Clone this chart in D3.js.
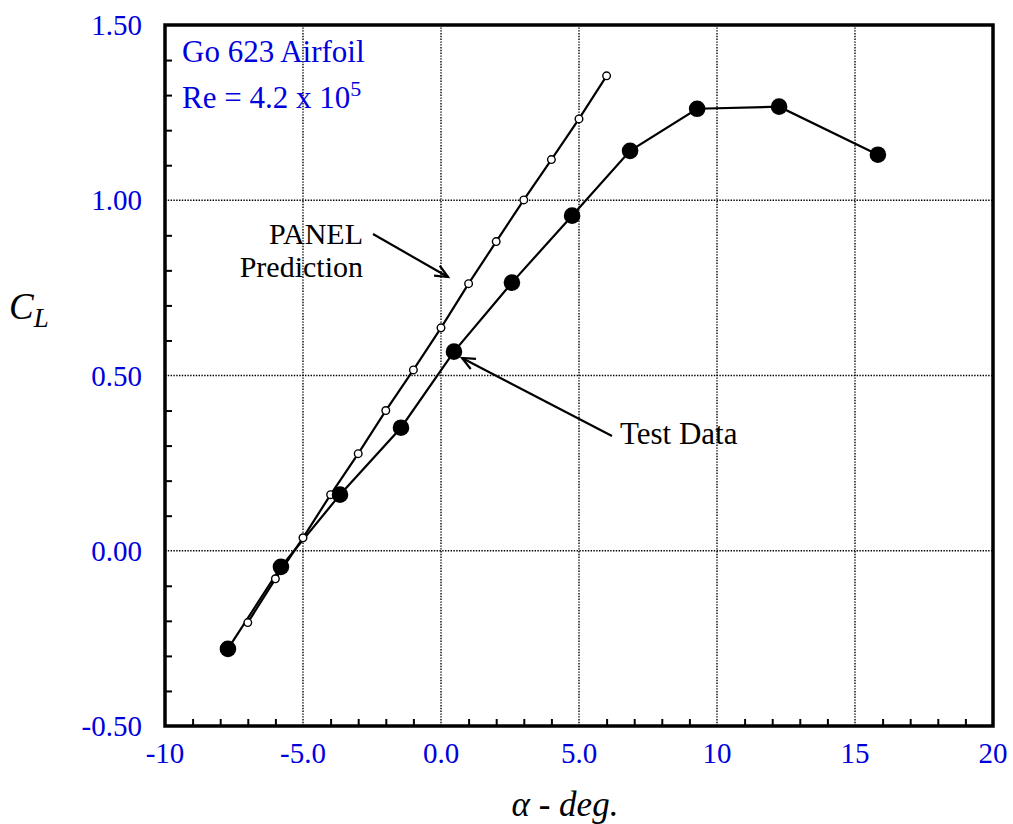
<!DOCTYPE html>
<html>
<head>
<meta charset="utf-8">
<script src="https://cdn.jsdelivr.net/npm/d3@7"></script>
<style>
  body { margin: 0; background: #fff; }
  text { font-family: "Liberation Serif", "Times New Roman", serif; }
</style>
</head>
<body>
<div id="chart"></div>
<script>
let height = 824,
    width = 1013,
    margin = ({ top: 25, right: 20, bottom: 98, left: 165 });

// PANEL prediction (open circles)
const panelAlpha = [-7, -6, -5, -4, -3, -2, -1, 0, 1, 2, 3, 4, 5, 6];
const panelCL = [-0.205, -0.08, 0.037, 0.16, 0.277, 0.40, 0.516, 0.636, 0.762, 0.882, 1.001, 1.116, 1.232, 1.355];

// Test data (filled circles)
const testAlpha = [-7.72, -5.8, -3.66, -1.45, 0.47, 2.57, 4.75, 6.85, 9.28, 12.25, 15.83];
const testCL = [-0.28, -0.046, 0.16, 0.351, 0.568, 0.765, 0.956, 1.141, 1.261, 1.267, 1.13];

const xTicks = [-10, -5, 0, 5, 10, 15, 20];
const xTickLabels = ["-10", "-5.0", "0.0", "5.0", "10", "15", "20"];
const yTicks = [-0.5, 0, 0.5, 1.0, 1.5];
const yTickLabels = ["-0.50", "0.00", "0.50", "1.00", "1.50"];

const svg = d3.select("#chart")
    .append("svg")
    .attr("width", width)
    .attr("height", height);

let x = d3.scaleLinear()
    .domain([-10, 20])
    .range([margin.left, width - margin.right]);

let y = d3.scaleLinear()
    .domain([-0.5, 1.5])
    .range([height - margin.bottom, margin.top]);

const blue = "#0000dd";

// dotted grid
svg.append("g")
    .selectAll("line")
    .data(xTicks.slice(1, -1))
    .join("line")
    .attr("x1", d => x(d)).attr("x2", d => x(d))
    .attr("y1", y(-0.5)).attr("y2", y(1.5))
    .attr("stroke", "#000").attr("stroke-width", 1.4)
    .attr("stroke-dasharray", "1.4,1.4");

svg.append("g")
    .selectAll("line")
    .data(yTicks.slice(1, -1))
    .join("line")
    .attr("y1", d => y(d)).attr("y2", d => y(d))
    .attr("x1", x(-10)).attr("x2", x(20))
    .attr("stroke", "#000").attr("stroke-width", 1.4)
    .attr("stroke-dasharray", "1.4,1.4");

// minor ticks, inward
svg.append("g")
    .attr("transform", `translate(0,${y(-0.5)})`)
    .call(d3.axisBottom(x).tickValues(d3.range(-9, 20, 1).filter(d => d % 5 !== 0)).tickSize(-7).tickFormat(""))
    .call(g => g.select(".domain").remove())
    .call(g => g.selectAll("line").attr("stroke-width", 2));

svg.append("g")
    .attr("transform", `translate(${x(-10)},0)`)
    .call(d3.axisLeft(y).tickValues(d3.range(-4, 15, 1).filter(d => d % 5 !== 0).map(d => d / 10)).tickSize(-7).tickFormat(""))
    .call(g => g.select(".domain").remove())
    .call(g => g.selectAll("line").attr("stroke-width", 2));

// tick labels
svg.append("g")
    .selectAll("text")
    .data(xTicks)
    .join("text")
    .attr("x", d => x(d))
    .attr("y", 763)
    .attr("text-anchor", "middle")
    .attr("font-size", 29)
    .attr("fill", blue)
    .text((d, i) => xTickLabels[i]);

svg.append("g")
    .selectAll("text")
    .data(yTicks)
    .join("text")
    .attr("x", 142)
    .attr("y", d => y(d) + 10)
    .attr("text-anchor", "end")
    .attr("font-size", 29)
    .attr("fill", blue)
    .text((d, i) => yTickLabels[i]);

// frame
svg.append("rect")
    .attr("x", x(-10)).attr("y", y(1.5))
    .attr("width", x(20) - x(-10)).attr("height", y(-0.5) - y(1.5))
    .attr("fill", "none").attr("stroke", "#000").attr("stroke-width", 3.5);

const line = d3.line();

const panelPts = panelAlpha.map((a, i) => [x(a), y(panelCL[i])]);
const testPts = testAlpha.map((a, i) => [x(a), y(testCL[i])]);

svg.append("path")
    .attr("d", line(panelPts))
    .attr("fill", "none").attr("stroke", "#000").attr("stroke-width", 2.2);

svg.append("path")
    .attr("d", line(testPts))
    .attr("fill", "none").attr("stroke", "#000").attr("stroke-width", 2.2);

svg.append("g")
    .selectAll("circle")
    .data(panelPts)
    .join("circle")
    .attr("cx", d => d[0]).attr("cy", d => d[1])
    .attr("r", 3.8)
    .attr("fill", "#fff").attr("stroke", "#000").attr("stroke-width", 1.4);

svg.append("g")
    .selectAll("circle")
    .data(testPts)
    .join("circle")
    .attr("cx", d => d[0]).attr("cy", d => d[1])
    .attr("r", 8.3)
    .attr("fill", "#000");

// annotations with arrows
function arrow(x1, y1, x2, y2) {
    const ang = Math.atan2(y2 - y1, x2 - x1), L = 14, w = 0.42;
    svg.append("line")
        .attr("x1", x1).attr("y1", y1).attr("x2", x2).attr("y2", y2)
        .attr("stroke", "#000").attr("stroke-width", 2.2);
    svg.append("path")
        .attr("d", `M${x2 - L * Math.cos(ang - w)},${y2 - L * Math.sin(ang - w)}L${x2},${y2}L${x2 - L * Math.cos(ang + w)},${y2 - L * Math.sin(ang + w)}`)
        .attr("fill", "none").attr("stroke", "#000").attr("stroke-width", 2.2);
}

arrow(373, 234, 448, 277);
arrow(612, 436, 462, 358);

svg.append("text").attr("x", 363).attr("y", 244).attr("text-anchor", "end")
    .attr("font-size", 30).text("PANEL");
svg.append("text").attr("x", 363).attr("y", 277).attr("text-anchor", "end")
    .attr("font-size", 30).text("Prediction");
svg.append("text").attr("x", 620).attr("y", 444)
    .attr("font-size", 31).text("Test Data");

// title block
svg.append("text").attr("x", 182).attr("y", 62)
    .attr("font-size", 31).attr("fill", blue).text("Go 623 Airfoil");
const re = svg.append("text").attr("x", 182).attr("y", 108)
    .attr("font-size", 31).attr("fill", blue);
re.append("tspan").text("Re = 4.2 x 10");
re.append("tspan").attr("dy", -12).attr("font-size", 22).text("5");

// axis titles
const cl = svg.append("text").attr("x", 9).attr("y", 319)
    .attr("font-size", 37).attr("font-style", "italic");
cl.append("tspan").text("C");
cl.append("tspan").attr("dy", 8).attr("font-size", 27).text("L");

svg.append("text").attr("x", 565).attr("y", 816).attr("text-anchor", "middle")
    .attr("font-size", 35).attr("font-style", "italic").text("\u03b1 - deg.");
</script>
</body>
</html>
